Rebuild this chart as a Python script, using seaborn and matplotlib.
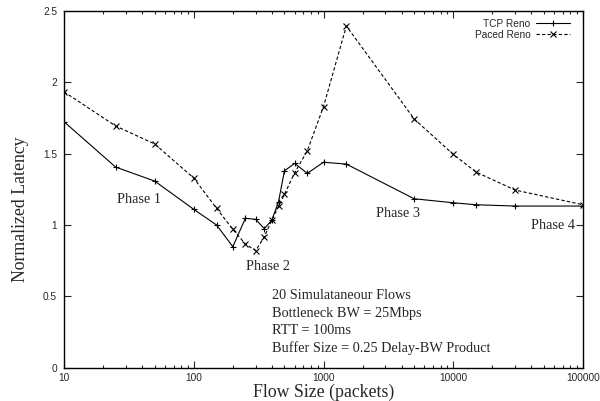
import matplotlib
matplotlib.use("Agg")
import matplotlib.pyplot as plt
import seaborn as sns
import numpy as np

# ---- data ----
flow_sizes = [10, 25, 50, 100, 150, 200, 250, 300, 350, 400, 450, 500, 600, 750,
              1000, 1500, 5000, 10000, 15000, 30000, 100000]
tcp_reno = [1.724, 1.406, 1.308, 1.11, 1.00, 0.848, 1.047, 1.04, 0.974, 1.035, 1.163,
            1.38, 1.432, 1.362, 1.44, 1.427, 1.184, 1.156, 1.142, 1.133, 1.133]
paced_reno = [1.934, 1.694, 1.568, 1.329, 1.117, 0.97, 0.867, 0.82, 0.918, 1.035, 1.133,
              1.215, 1.367, 1.52, 1.83, 2.395, 1.743, 1.495, 1.371, 1.245, 1.142]
series_names = ["TCP Reno", "Paced Reno"]
x_ticks = [10, 100, 1000, 10000, 100000]
x_tick_labels = ["10", "100", "1000", "10000", "100000"]
y_ticks = [0, 0.5, 1, 1.5, 2, 2.5]
y_tick_labels = ["0", "0.5", "1", "1.5", "2", "2.5"]
phase_labels = ["Phase 1", "Phase 2", "Phase 3", "Phase 4"]
info_lines = ["20 Simulataneour Flows", "Bottleneck BW = 25Mbps", "RTT = 100ms",
              "Buffer Size = 0.25 Delay-BW Product"]

sns.set_style("ticks")
plt.rcParams["font.family"] = ["Liberation Sans", "DejaVu Sans"]

fig = plt.figure(figsize=(6.0, 4.01), dpi=100)
W, H = 600, 401
left, right, top, bottom = 64, 583, 11, 367.7
ax = fig.add_axes([left / W, 1 - bottom / H, (right - left) / W, (bottom - top) / H])

sns.lineplot(x=flow_sizes, y=tcp_reno, ax=ax, color="black", lw=0.8,
             marker="+", ms=5, mec="black", mew=0.8, label=series_names[0])
sns.lineplot(x=flow_sizes, y=paced_reno, ax=ax, color="black", lw=0.8,
             marker="x", ms=4.5, mec="black", mew=0.8, label=series_names[1])
lines = ax.get_lines()
lines[1].set_linestyle((0, (3, 2)))

ax.set_xscale("log")
ax.set_xlim(10, 100000)
ax.set_ylim(0, 2.5)
ax.set_xticks(x_ticks)
ax.set_xticklabels(x_tick_labels)
ax.set_yticks(y_ticks)
ax.set_yticklabels(y_tick_labels)
ax.xaxis.set_minor_locator(matplotlib.ticker.LogLocator(base=10, subs=np.arange(2, 10)))
ax.xaxis.set_minor_formatter(matplotlib.ticker.NullFormatter())

ax.tick_params(which="both", direction="in", top=True, right=True, labelsize=7.3, width=0.8)
ax.tick_params(which="major", length=5)
ax.tick_params(which="minor", length=2.5)
ax.tick_params(axis="x", pad=4)
ax.tick_params(axis="y", pad=5)
for s in ax.spines.values():
    s.set_linewidth(1.0)
    s.set_color("black")
    s.set_visible(True)

serif = ["Liberation Serif", "DejaVu Serif"]
ax.set_xlabel("Flow Size (packets)", fontsize=12.8, family=serif)
ax.set_ylabel("Normalized Latency", fontsize=12.8, family=serif)
ax.xaxis.set_label_coords(0.5, -0.045)
ax.yaxis.set_label_coords(-0.068, 0.445)

fs = 10.3
ax.text(25.6, 1.18, phase_labels[0], fontsize=fs, family=serif, va="center", ha="left")
ax.text(253, 0.706, phase_labels[1], fontsize=fs, family=serif, va="center", ha="left")
ax.text(2540, 1.084, phase_labels[2], fontsize=fs, family=serif, va="center", ha="left")
ax.text(86700, 1.0, phase_labels[3], fontsize=fs, family=serif, va="center", ha="right")
for txt, yv in zip(info_lines, [0.509, 0.383, 0.264, 0.138]):
    ax.text(401, yv, txt, fontsize=fs, family=serif, va="center", ha="left")

leg = ax.legend(loc="upper right", bbox_to_anchor=(570 / W, 1 - 19 / H),
                bbox_transform=fig.transFigure, frameon=False, markerfirst=False,
                fontsize=7.3, handlelength=3.4, handletextpad=0.5, labelspacing=0.05,
                borderpad=0, borderaxespad=0)

fig.savefig("out.png", dpi=100)
